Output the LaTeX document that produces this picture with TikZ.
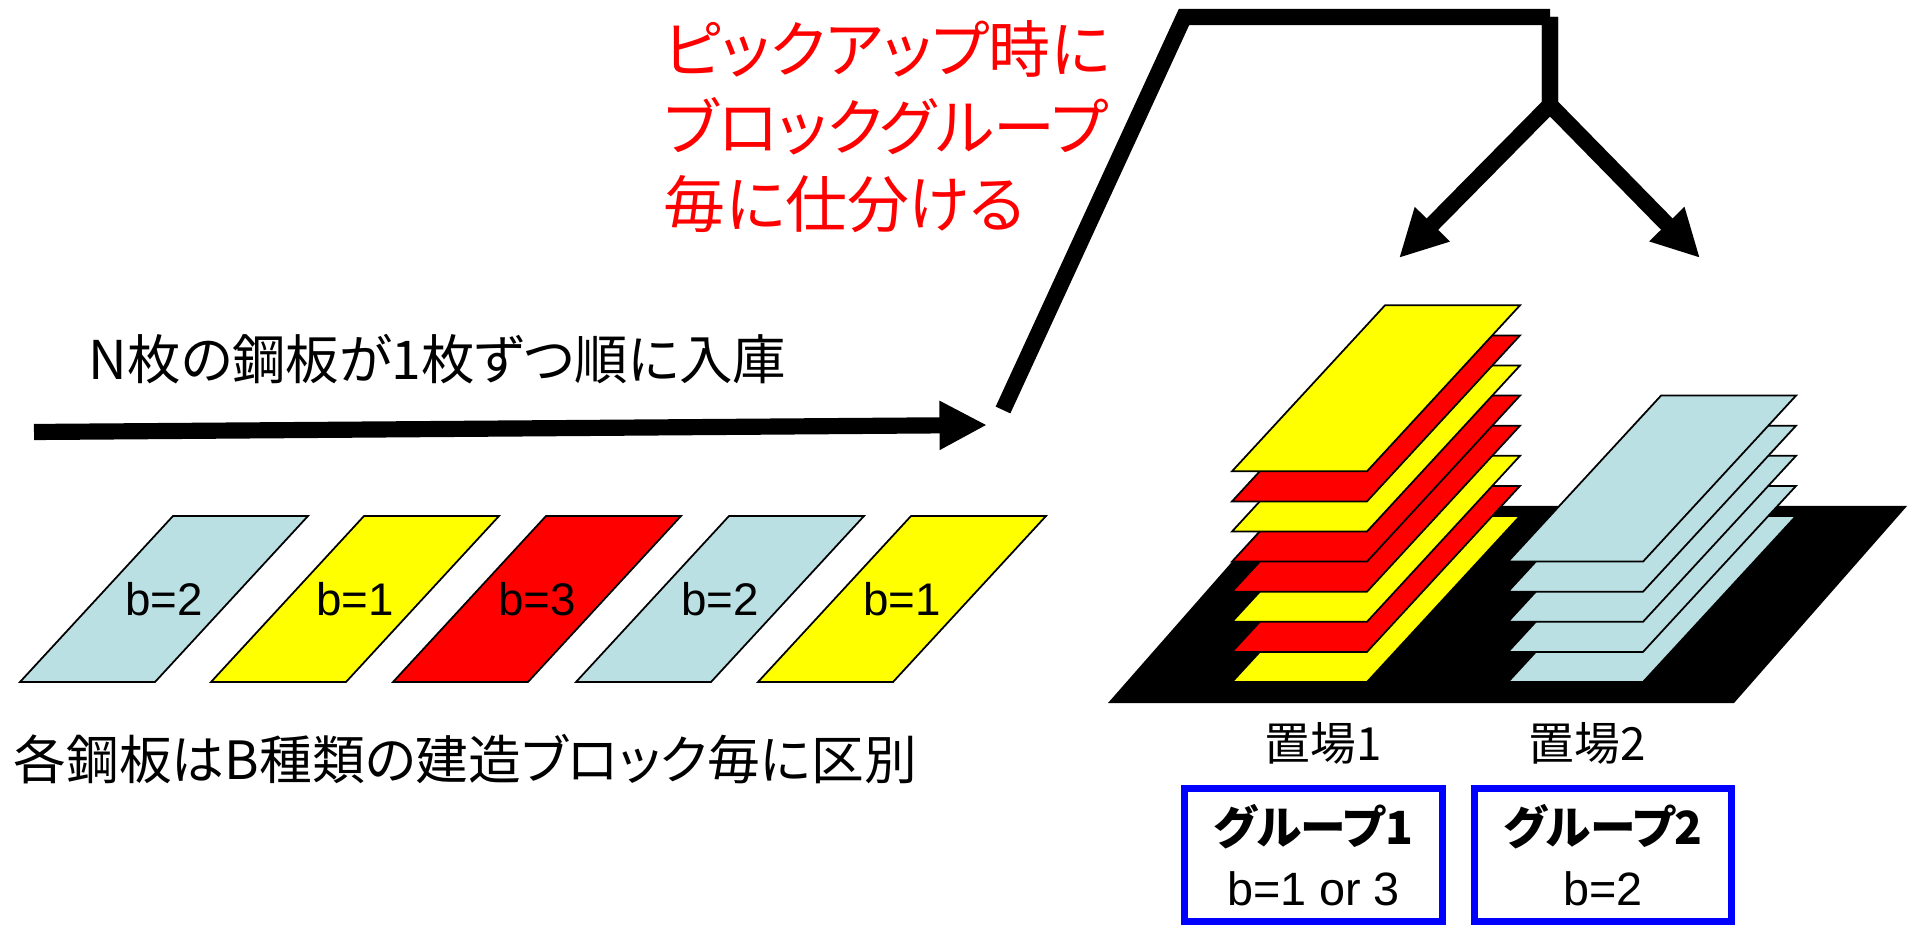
\documentclass[tikz,border=0pt]{standalone}
\usepackage{fontspec}
\setmainfont{Liberation Sans}
\newfontfamily\jpfont{Noto Sans CJK JP}[RawFeature=+palt]
\usetikzlibrary{arrows.meta}

\definecolor{plateblue}{HTML}{BBE0E3}
\definecolor{plateyellow}{RGB}{255,255,0}
\definecolor{platered}{RGB}{255,0,0}

% one steel plate: bottom-left corner x, y and fill colour
\newcommand{\plate}[3]{%
  \filldraw[plate,fill=#3] (#1,#2) -- ++(135,0) -- ++(153,-166) -- ++(-135,0) -- cycle;}

\begin{document}
\begin{tikzpicture}[x=0.01cm,y=-0.01cm,
    plate/.style={draw=black,line width=0.5pt},
    flow/.style={line width=4.6pt,-{Triangle[length=13.5pt,width=13pt]}},
    lift/.style={line width=4.6pt},
    groupbox/.style={draw=blue,line width=2pt,minimum width=2.57cm,minimum height=1.33cm,
      align=center,font=\fontsize{13.3}{17.4}\selectfont},
    jptext/.style={font=\jpfont\fontsize{15.2}{18}\selectfont,inner sep=0pt},
    yardtext/.style={font=\jpfont\fontsize{13}{15}\selectfont,inner sep=0pt,anchor=base}]
  \useasboundingbox (0,0) rectangle (1910,925);

  % incoming plates
  \foreach \px/\c/\b [count=\i] in {20/plateblue/2,211/plateyellow/1,393/platered/3,576/plateblue/2,758/plateyellow/1} {
    \plate{\px}{682}{\c}
    \node[font=\fontsize{13}{15}\selectfont] (b\i) at (\px+144,599) {b=\b};
  }

  % yard floor
  \fill (1108,703) -- (1734,703) -- (1907,506) -- (1281,506) -- cycle;

  % yard 1 (b=1 or 3) and yard 2 (b=2)
  \foreach \c [count=\i from 0] in {plateyellow,platered,plateyellow,platered,platered,plateyellow,platered,plateyellow} {
    \plate{1232}{682-30.1*\i}{\c}
  }
  \foreach \i in {0,...,4} {
    \plate{1508}{682-30.1*\i}{plateblue}
  }

  % texts
  \node[jptext,anchor=base west] (feedText) at (88,380) {N枚の鋼板が1枚ずつ順に入庫};
  \node[jptext,font=\jpfont\fontsize{15}{18}\selectfont,anchor=base west] (noteText) at (13,779) {各鋼板はB種類の建造ブロック毎に区別};
  \node[jptext,platered,font=\jpfont\fontsize{17.6}{22}\selectfont,align=left,anchor=north west]
    (pickText) at (663,20) {ピックアップ時に\\ブロックグループ\\毎に仕分ける};

  \node[yardtext] (yard1) at (1323,760) {置場1};
  \node[yardtext] (yard2) at (1587,760) {置場2};
  \node[groupbox] (grp1) at (1313.5,855) {{\jpfont\bfseries\fontsize{13}{15}\selectfont グループ1}\\b=1 or 3};
  \node[groupbox] (grp2) at (1603,855) {{\jpfont\bfseries\fontsize{13}{15}\selectfont グループ2}\\b=2};

  % arrows
  \coordinate (feedStart) at (34,432);
  \coordinate (feedEnd) at (987,425);
  \coordinate (liftFoot) at (1003,410);
  \coordinate (liftTop) at (1184,17);
  \coordinate (liftEnd) at (1550,17);
  \coordinate (split) at (1550,105);
  \coordinate (drop1) at (1399,258);
  \coordinate (drop2) at (1700,258);

  \draw[flow] (feedStart) -- (feedEnd);
  \draw[lift] (liftFoot) -- (liftTop) -- (liftEnd);
  \draw[flow] (liftEnd) -- (split) -- (drop1);
  \draw[flow] (liftEnd) -- (split) -- (drop2);
\end{tikzpicture}
\end{document}
